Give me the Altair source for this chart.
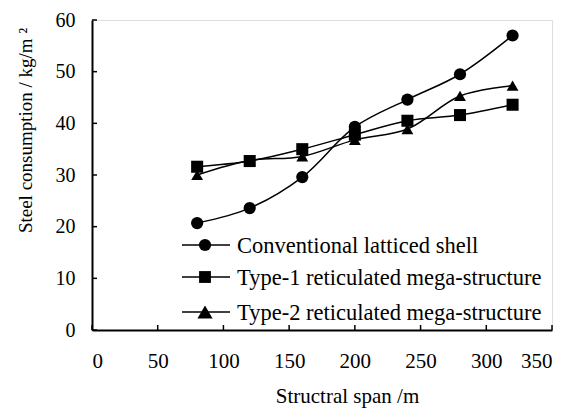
import altair as alt
import pandas as pd

spans = [80, 120, 160, 200, 240, 280, 320]
series_names = ["Conventional latticed shell",
                "Type-1 reticulated mega-structure",
                "Type-2 reticulated mega-structure"]
conventional = [20.7, 23.6, 29.6, 39.3, 44.6, 49.5, 57.0]
type1 = [31.6, 32.7, 35.0, 37.8, 40.5, 41.6, 43.6]
type2 = [30.0, 32.8, 33.6, 36.8, 38.9, 45.3, 47.3]
x_ticks = [0, 50, 100, 150, 200, 250, 300, 350]
y_ticks = [0, 10, 20, 30, 40, 50, 60]
shapes = ["circle", "square", "triangle-up"]
sizes = [150, 140, 230]

rows = []
for name, vals in zip(series_names, [conventional, type1, type2]):
    for x, y in zip(spans, vals):
        rows.append({"span": x, "steel": y, "series": name})
df = pd.DataFrame(rows)

FONT = "Liberation Serif"
W, H = 460, 310

xs = alt.Scale(domain=[0, 350], nice=False, zero=True)
ys = alt.Scale(domain=[0, 60], nice=False, zero=True)

x_enc = alt.X("span:Q", scale=xs, axis=alt.Axis(
    values=x_ticks, title="Structral span /m", grid=False,
    ticks=False, tickSize=0, labelPadding=20, labelFontSize=21,
    labelFont=FONT, labelColor="black", domainColor="black", domainWidth=2,
    titleFont=FONT, titleFontSize=21, titleFontWeight="normal", titleColor="black",
    titleX=255, titleY=72, titleBaseline="alphabetic", titleAlign="center"))
y_enc = alt.Y("steel:Q", scale=ys, axis=alt.Axis(
    values=y_ticks, title="Steel consumption / kg/m ²", grid=False,
    ticks=False, tickSize=0, labelPadding=17, labelFontSize=20,
    labelFont=FONT, labelColor="black", domainColor="black", domainWidth=2,
    titleFont=FONT, titleFontSize=19, titleFontWeight="normal", titleColor="black",
    titleX=-61, titleY=110, titleAngle=270, titleBaseline="alphabetic",
    titleAlign="center"))

base = alt.Chart(df)
lines = base.mark_line(interpolate="catmull-rom", color="black", strokeWidth=1.5).encode(
    x=x_enc, y=y_enc, detail="series:N")
points = base.mark_point(filled=True, color="black", opacity=1).encode(
    x=alt.X("span:Q", scale=xs),
    y=alt.Y("steel:Q", scale=ys),
    shape=alt.Shape("series:N", scale=alt.Scale(domain=series_names, range=shapes), legend=None),
    size=alt.Size("series:N", scale=alt.Scale(domain=series_names, range=sizes), legend=None))

ytick_df = pd.DataFrame({"v": y_ticks})
xtick_df = pd.DataFrame({"v": x_ticks})
ytk = alt.Chart(ytick_df).mark_rule(color="black", strokeWidth=1.5).encode(
    y=alt.Y("v:Q", scale=ys), x=alt.value(0), x2=alt.value(5))
xtk = alt.Chart(xtick_df).mark_rule(color="black", strokeWidth=1.5).encode(
    x=alt.X("v:Q", scale=xs), y=alt.value(H), y2=alt.value(H - 5))

legend_y = [225, 257, 292]
legend_layers = []
for name, shp, sz, ly in zip(series_names, shapes, sizes, legend_y):
    d = alt.Data(values=[{"label": name}])
    legend_layers.append(alt.Chart(d).mark_rule(color="black", strokeWidth=1.5).encode(
        x=alt.value(90), x2=alt.value(138), y=alt.value(ly)))
    legend_layers.append(alt.Chart(d).mark_point(filled=True, color="black", opacity=1,
                                                 shape=shp, size=sz).encode(
        x=alt.value(113), y=alt.value(ly)))
    legend_layers.append(alt.Chart(d).mark_text(font=FONT, fontSize=22.5, align="left",
                                                baseline="middle", color="black").encode(
        x=alt.value(145), y=alt.value(ly + 1), text="label:N"))

chart = alt.layer(lines, points, ytk, xtk, *legend_layers).properties(
    width=W, height=H,
    autosize=alt.AutoSizeParams(type="none"),
    padding={"left": 84, "top": 12, "right": 10, "bottom": 78},
).configure_view(stroke="#8c8c8c", strokeWidth=1.5).configure(background="white")

chart.save("out.html", embed_options={"renderer": "svg", "actions": False})
